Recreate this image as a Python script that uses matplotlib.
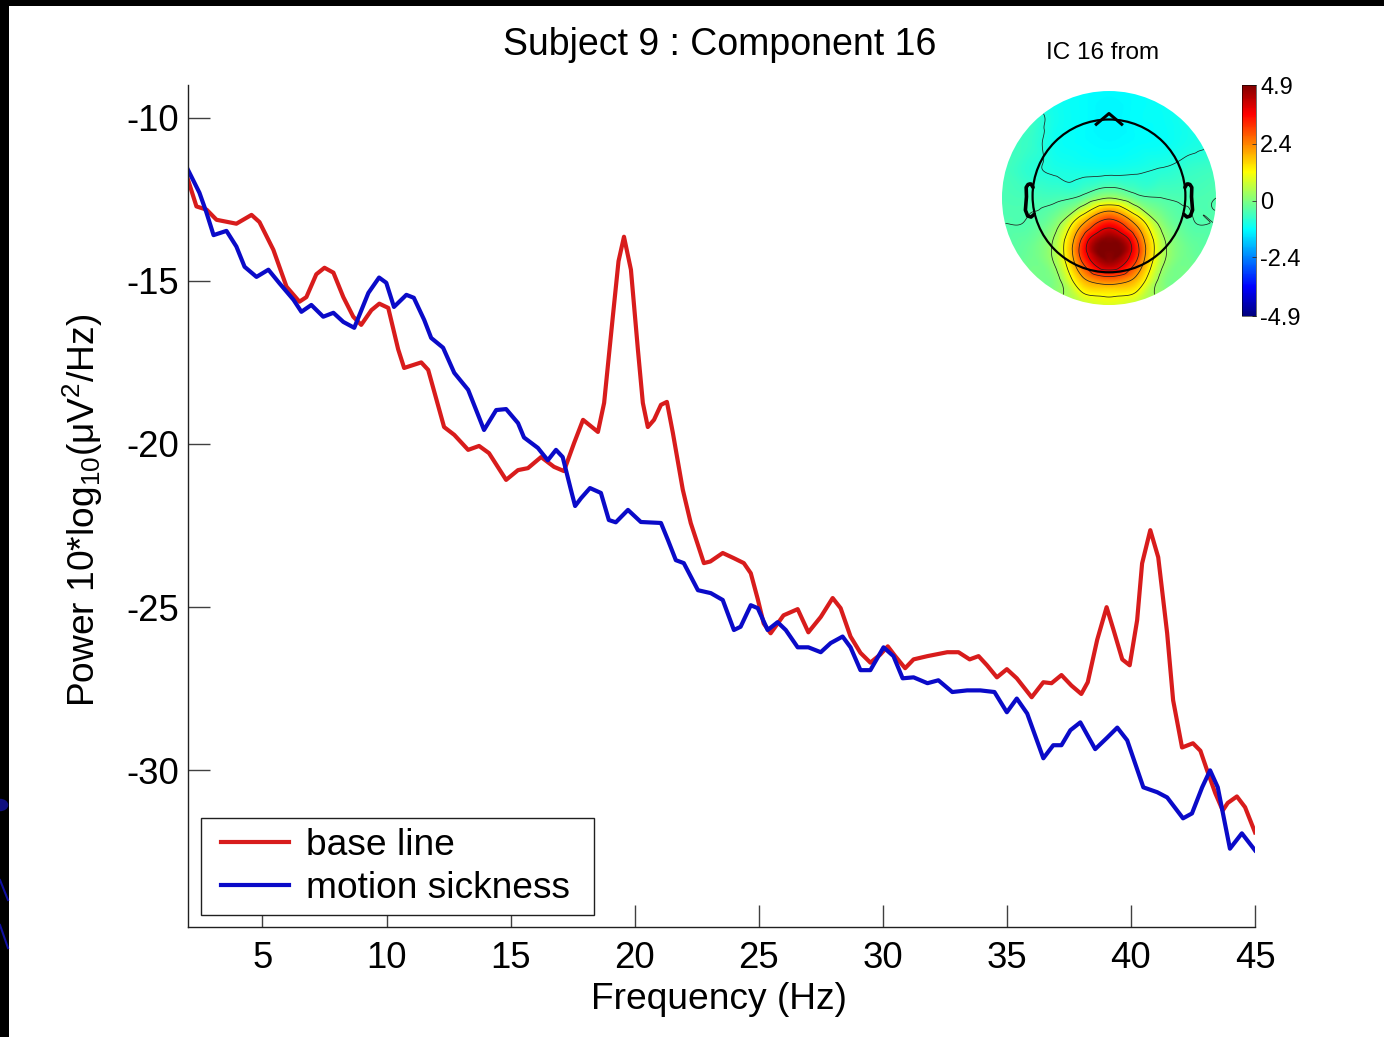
import numpy as np
import matplotlib
matplotlib.use('Agg')
import matplotlib.pyplot as plt
import matplotlib.tri as mtri
from matplotlib.patches import Circle, Rectangle, Polygon
from matplotlib.lines import Line2D
from matplotlib.cm import ScalarMappable
from matplotlib.colors import Normalize, LinearSegmentedColormap
from matplotlib.legend_handler import HandlerLine2D

plt.rcParams['font.family'] = ['Liberation Sans', 'DejaVu Sans']
plt.rcParams['mathtext.fontset'] = 'custom'
plt.rcParams['mathtext.rm'] = 'Liberation Sans'
plt.rcParams['mathtext.it'] = 'Liberation Sans:italic'
plt.rcParams['mathtext.bf'] = 'Liberation Sans:bold'

# ---------------- data ----------------
freq_base = [2.0, 2.34, 2.75, 3.15, 3.95, 4.56, 4.88, 5.44, 5.97, 6.49, 6.77, 7.17, 7.5, 7.86,
             8.26, 8.66, 8.98, 9.39, 9.71, 10.07, 10.47, 10.71, 11.4, 11.68, 12.32, 12.73,
             13.29, 13.73, 14.13, 14.82, 15.3, 15.7, 16.23, 16.75, 17.15, 17.56, 17.92, 18.52,
             18.77, 19.12, 19.35, 19.57, 19.85, 20.13, 20.33, 20.53, 20.78, 21.06, 21.3, 21.54,
             21.94, 22.26, 22.79, 23.05, 23.55, 24.0, 24.4, 24.68, 24.96, 25.2, 25.48, 26.0,
             26.57, 27.0, 27.5, 27.98, 28.3, 28.7, 29.1, 29.5, 29.9, 30.2, 30.5, 30.9, 31.24,
             31.8, 32.6, 33.05, 33.5, 33.86, 34.2, 34.6, 35.0, 35.4, 36.0, 36.47, 36.8, 37.2,
             37.6, 38.0, 38.26, 38.64, 39.02, 39.3, 39.65, 39.95, 40.25, 40.45, 40.78, 41.1,
             41.46, 41.7, 42.06, 42.5, 42.8, 43.07, 43.4, 43.7, 43.9, 44.27, 44.6, 45.0]
power_base = [-11.9, -12.72, -12.82, -13.13, -13.25, -12.98, -13.2, -14.05, -15.18, -15.64,
              -15.5, -14.8, -14.6, -14.75, -15.5, -16.1, -16.35, -15.9, -15.7, -15.83, -17.1,
              -17.67, -17.5, -17.73, -19.48, -19.72, -20.18, -20.06, -20.28, -21.1, -20.8,
              -20.74, -20.4, -20.7, -20.83, -19.97, -19.26, -19.63, -18.74, -16.1, -14.4,
              -13.65, -14.66, -17.1, -18.74, -19.48, -19.26, -18.8, -18.71, -19.66, -21.4,
              -22.42, -23.65, -23.6, -23.34, -23.5, -23.65, -23.96, -24.75, -25.5, -25.8,
              -25.25, -25.06, -25.77, -25.3, -24.72, -25.03, -25.9, -26.4, -26.7, -26.45,
              -26.2, -26.5, -26.87, -26.6, -26.5, -26.38, -26.38, -26.6, -26.5, -26.78,
              -27.15, -26.9, -27.18, -27.76, -27.3, -27.33, -27.08, -27.4, -27.66, -27.3,
              -26.0, -25.0, -25.7, -26.6, -26.78, -25.4, -23.66, -22.64, -23.47, -25.8,
              -27.85, -29.3, -29.17, -29.4, -30.0, -30.7, -31.23, -31.0, -30.8, -31.13, -31.9]

freq_motion = [2.0, 2.46, 2.74, 3.03, 3.55, 3.95, 4.28, 4.76, 5.24, 5.68, 6.25, 6.57, 6.97,
               7.45, 7.86, 8.26, 8.7, 9.27, 9.7, 9.99, 10.3, 10.8, 11.1, 11.52, 11.8, 12.28,
               12.73, 13.29, 13.93, 14.42, 14.82, 15.3, 15.54, 16.1, 16.5, 16.83, 17.1, 17.43,
               17.6, 17.84, 18.2, 18.64, 18.96, 19.24, 19.73, 20.25, 21.06, 21.34, 21.66, 21.98,
               22.55, 23.07, 23.55, 24.0, 24.27, 24.68, 24.96, 25.36, 25.76, 26.09, 26.57, 27.0,
               27.5, 27.9, 28.38, 28.7, 29.1, 29.5, 30.03, 30.43, 30.8, 31.24, 31.8, 32.24,
               32.8, 33.4, 33.93, 34.5, 35.0, 35.4, 35.82, 36.47, 36.87, 37.2, 37.56, 37.96,
               38.56, 39.04, 39.45, 39.85, 40.5, 41.06, 41.46, 42.1, 42.46, 42.87, 43.19, 43.5,
               43.99, 44.47, 45.0]
power_motion = [-11.6, -12.3, -12.9, -13.6, -13.47, -13.95, -14.57, -14.88, -14.66, -15.07,
                -15.58, -15.95, -15.74, -16.1, -15.98, -16.26, -16.44, -15.37, -14.9, -15.06,
                -15.8, -15.43, -15.52, -16.2, -16.75, -17.05, -17.82, -18.34, -19.57, -18.96,
                -18.93, -19.36, -19.8, -20.12, -20.5, -20.18, -20.4, -21.4, -21.9, -21.66,
                -21.35, -21.5, -22.33, -22.4, -22.02, -22.39, -22.42, -22.94, -23.56, -23.65,
                -24.48, -24.57, -24.78, -25.7, -25.6, -24.94, -25.03, -25.7, -25.46, -25.7,
                -26.23, -26.23, -26.38, -26.1, -25.9, -26.23, -26.93, -26.93, -26.23, -26.5,
                -27.18, -27.15, -27.33, -27.24, -27.6, -27.55, -27.55, -27.6, -28.22, -27.8,
                -28.26, -29.63, -29.23, -29.23, -28.77, -28.53, -29.35, -29.0, -28.69, -29.08,
                -30.52, -30.67, -30.83, -31.47, -31.32, -30.52, -30.0, -30.52, -32.4, -31.93,
                -32.45]

series_labels = ['base line', 'motion sickness']
x_ticks = [5, 10, 15, 20, 25, 30, 35, 40, 45]
y_ticks = [-30, -25, -20, -15, -10]
title_text = 'Subject 9 : Component 16'
xlabel_text = 'Frequency (Hz)'
ylabel_text = 'Power 10*log$_{10}$(μV$^2$/Hz)'
topo_title = 'IC 16 from'

# scalp map: values sampled on a 9x9 grid (u, v from -1 to 1), plus extra samples
topo_grid_u = [-1.0, -0.75, -0.5, -0.25, 0.0, 0.25, 0.5, 0.75, 1.0]
topo_grid_v = [1.0, 0.75, 0.5, 0.25, 0.0, -0.25, -0.5, -0.75, -1.0]
topo_grid_val = [
    [-0.85, -0.95, -1.1, -1.2, -1.25, -1.2, -1.1, -1.0, -0.95],
    [-0.6, -0.65, -1.05, -1.2, -1.3, -1.2, -1.15, -1.0, -0.9],
    [-0.6, -0.7, -1.1, -1.2, -1.25, -1.2, -1.15, -1.0, -0.9],
    [-0.55, -0.8, -0.95, -1.0, -1.0, -0.95, -0.85, -0.7, -0.6],
    [-0.5, -0.55, -0.55, -0.3, 0.3, -0.25, -0.45, -0.5, -0.45],
    [-0.45, -0.4, 0.1, 2.1, 3.6, 2.1, 0.1, -0.4, -0.45],
    [-0.4, -0.2, 0.5, 3.4, 4.85, 3.4, 0.5, -0.2, -0.4],
    [-0.3, -0.1, 0.1, 2.0, 2.8, 2.0, 0.1, -0.1, -0.3],
    [-0.2, -0.1, 0.2, 0.6, 0.9, 0.6, 0.2, -0.1, -0.2],
]
topo_extra_u = [0.0, 0.0, 0.0, 0.0, 0.0, -0.15, 0.15, -0.36, 0.36]
topo_extra_v = [-0.46, -0.13, -0.36, -0.62, -0.87, -0.46, -0.46, -0.46, -0.46]
topo_extra_val = [4.9, 2.2, 4.6, 4.5, 1.5, 4.6, 4.6, 1.9, 1.9]
cbar_ticks = [-4.9, -2.4, 0, 2.4, 4.9]
cbar_labels = ['-4.9', '-2.4', '0', '2.4', '4.9']

RED = '#d81c1c'
BLUE = '#0a0ac8'

# MATLAB-style jet colormap
mjet = LinearSegmentedColormap('matlab_jet', {
    'red': [(0, 0, 0), (3 / 8, 0, 0), (5 / 8, 1, 1), (7 / 8, 1, 1), (1, 0.5, 0.5)],
    'green': [(0, 0, 0), (1 / 8, 0, 0), (3 / 8, 1, 1), (5 / 8, 1, 1), (7 / 8, 0, 0), (1, 0, 0)],
    'blue': [(0, 0.5, 0.5), (1 / 8, 1, 1), (3 / 8, 1, 1), (5 / 8, 0, 0), (1, 0, 0)],
}, N=256)

# ---------------- figure ----------------
W, H = 1384, 1037
fig = plt.figure(figsize=(W / 100, H / 100), dpi=100)
fig.patch.set_facecolor('white')


def px(x0, y0, x1, y1):
    return [x0 / W, 1 - y1 / H, (x1 - x0) / W, (y1 - y0) / H]


AX_L, AX_T, AX_R, AX_B = 188, 85, 1255, 927
ax = fig.add_axes(px(AX_L, AX_T, AX_R, AX_B))
l1, = ax.plot(freq_base, power_base, color=RED, lw=3.0, solid_joinstyle='round',
              label=series_labels[0])
l2, = ax.plot(freq_motion, power_motion, color=BLUE, lw=3.0, solid_joinstyle='round',
              label=series_labels[1])
ax.set_xlim(2.0, 45.0)
ax.set_ylim(-34.8, -9.0)
ax.set_xticks(x_ticks)
ax.set_yticks(y_ticks)
ax.set_xticklabels([str(t) for t in x_ticks])
ax.set_yticklabels([str(t) for t in y_ticks])
for s in ['top', 'right']:
    ax.spines[s].set_visible(False)
for s in ['left', 'bottom']:
    ax.spines[s].set_linewidth(1.0)
    ax.spines[s].set_color('#202020')
ax.tick_params(axis='both', direction='in', length=15.5, width=1.0, color='#404040',
               labelsize=26.3, labelcolor='black')
ax.tick_params(axis='y', pad=6.5)
ax.tick_params(axis='x', pad=10)

aw, ah = AX_R - AX_L, AX_B - AX_T
leg = ax.legend(loc='lower left', mode='expand',
                bbox_to_anchor=((201 - AX_L) / aw, (AX_B - 915) / ah, (594 - 201) / aw, 0.1),
                borderaxespad=0, fontsize=26.7, frameon=True, fancybox=False, framealpha=1,
                edgecolor='#202020', handlelength=2.13, handletextpad=0.45,
                labelspacing=0.22, borderpad=0.25,
                handler_map={l1: HandlerLine2D(xpad=0.28), l2: HandlerLine2D(xpad=0.28)})
leg.get_frame().set_linewidth(1.0)

fig.text(720 / W, 1 - 55 / H, title_text, ha='center', va='baseline', fontsize=27)
fig.text(719 / W, 1 - 1009 / H, xlabel_text, ha='center', va='baseline', fontsize=26.7)
fig.text(95 / W, 1 - 510 / H, ylabel_text, ha='center', va='baseline', rotation=90,
         rotation_mode='anchor', fontsize=26.7)

# ---------------- scalp map ----------------
tax = fig.add_axes(px(995, 80, 1225, 315))
tax.set_xlim(-1.065, 1.084)
tax.set_ylim(-1.093, 1.103)
tax.axis('off')

gu, gv = np.meshgrid(topo_grid_u, topo_grid_v)
all_u = np.concatenate([gu.ravel(), topo_extra_u])
all_v = np.concatenate([gv.ravel(), topo_extra_v])
all_val = np.concatenate([np.array(topo_grid_val).ravel(), topo_extra_val])
tri = mtri.Triangulation(all_u, all_v)
interp = mtri.CubicTriInterpolator(tri, all_val, kind='geom')
xs = np.linspace(-1.0, 1.0, 301)
XX, YY = np.meshgrid(xs, xs)
ZZ = np.ma.filled(interp(XX, YY), np.nan)
ZZ = np.clip(ZZ, -4.9, 4.9)

disk = Circle((0, 0), 1.0, transform=tax.transData, facecolor='none', edgecolor='none')
tax.add_patch(disk)
im = tax.imshow(ZZ, extent=(-1, 1, -1, 1), origin='lower', cmap=mjet, vmin=-4.9, vmax=4.9,
                interpolation='bilinear', zorder=1)
im.set_clip_path(disk)
cs = tax.contour(XX, YY, np.where(XX ** 2 + YY ** 2 <= 1.0, ZZ, np.nan),
                 levels=[-0.9, -0.45, 0.3, 1.2, 2.1, 3.0, 3.9], colors='#202020',
                 linewidths=0.55, linestyles='solid', negative_linestyles='solid', zorder=2)
cs.set_clip_path(disk)

hc = (0.0, 0.02)
hr = 0.714
tax.add_patch(Circle(hc, hr, facecolor='none', edgecolor='black', lw=1.6, zorder=3))
tax.add_patch(Polygon([(-0.13, hc[1] + 0.66), (0.0, hc[1] + 0.77), (0.13, hc[1] + 0.66)],
                      closed=False, facecolor='none', edgecolor='black', lw=2.2, zorder=3,
                      joinstyle='round'))
ear_x = np.array([.497, .510, .518, .5299, .5419, .54, .547, .532, .510, .489]) * hr / 0.5
ear_y = np.array([.0555, .0775, .0783, .0746, .0555, -.0055, -.0932, -.1313, -.1384, -.1199]) * hr / 0.5
tax.plot(hc[0] + ear_x, hc[1] + ear_y, color='black', lw=2.6, zorder=3, solid_capstyle='round')
tax.plot(hc[0] - ear_x, hc[1] + ear_y, color='black', lw=2.6, zorder=3, solid_capstyle='round')

fig.text(1103 / W, 1 - 53 / H, topo_title, ha='center', va='center', fontsize=17.5)

cax = fig.add_axes(px(1242, 85, 1256, 316))
sm = ScalarMappable(norm=Normalize(-4.9, 4.9), cmap=mjet)
cb = fig.colorbar(sm, cax=cax)
cb.set_ticks(cbar_ticks)
cb.set_ticklabels(cbar_labels)
cb.outline.set_linewidth(0.4)
cax.tick_params(labelsize=17, length=3, width=0.6, direction='in', pad=3, color='#303030')

# ---------------- slide frame ----------------
fig.patches.append(Rectangle((0, 1 - 6 / H), 1, 6 / H, transform=fig.transFigure,
                             facecolor='black', edgecolor='none', zorder=10))
fig.patches.append(Rectangle((0, 0), 9 / W, 1, transform=fig.transFigure,
                             facecolor='black', edgecolor='none', zorder=10))
for (ya, yb) in [(880 / H, 900 / H), (925 / H, 948 / H)]:
    fig.lines.append(Line2D([0, 8 / W], [1 - ya, 1 - yb], transform=fig.transFigure,
                            color='#1010a0', lw=1.5, zorder=11))
fig.patches.append(Circle((0 / W, 1 - 805 / H), 0.006, transform=fig.transFigure,
                          facecolor='#101080', edgecolor='none', zorder=11))

fig.savefig('out.png', dpi=100)
